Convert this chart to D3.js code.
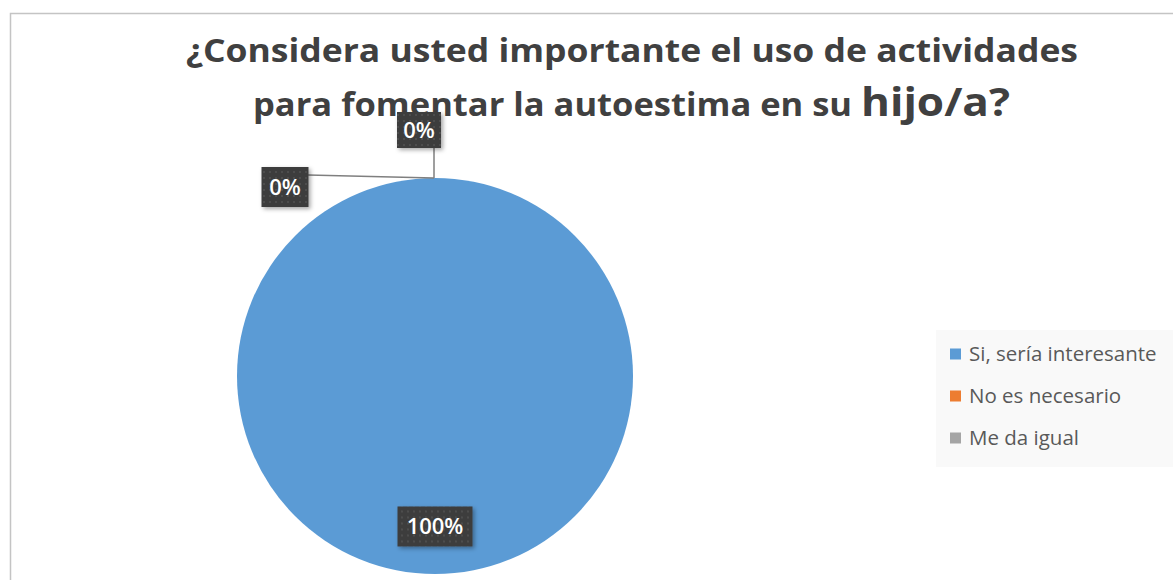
<!DOCTYPE html>
<html>
<head>
<meta charset="utf-8">
<script src="https://cdn.jsdelivr.net/npm/d3@7"></script>
<style>
    body { margin: 0; background: #fff; }
    svg { display: block; font-family: "Open Sans", "DejaVu Sans", sans-serif; }
</style>
</head>
<body>
<div id="chart"></div>
<script>
const categories = ["Si, sería interesante", "No es necesario", "Me da igual"];
const values = [100, 0, 0];
const percentLabels = ["100%", "0%", "0%"];
const colors = ["#5b9bd5", "#ed7d31", "#a5a5a5"];
const titleLine1 = "¿Considera usted importante el uso de actividades";
const titleLine2a = "para fomentar la autoestima en su ";
const titleLine2b = "hijo/a?";

function renderPieChart() {
    const outerWidth = 1173;
    const outerHeight = 580;

    const svg = d3.select("#chart")
        .append("svg")
        .attr("width", outerWidth)
        .attr("height", outerHeight);

    const defs = svg.append("defs");
    const dots = defs.append("pattern")
        .attr("id", "dots")
        .attr("width", 6)
        .attr("height", 6)
        .attr("patternUnits", "userSpaceOnUse");
    dots.append("rect").attr("width", 6).attr("height", 6).attr("fill", "#3d3d3d");
    dots.append("circle").attr("cx", 3).attr("cy", 3).attr("r", 0.9).attr("fill", "#555");

    const shadow = defs.append("filter")
        .attr("id", "shadow")
        .attr("x", "-20%").attr("y", "-20%")
        .attr("width", "150%").attr("height", "150%");
    shadow.append("feDropShadow")
        .attr("dx", 2).attr("dy", 2)
        .attr("stdDeviation", 2)
        .attr("flood-color", "#000")
        .attr("flood-opacity", 0.35);

    // chart frame
    svg.append("rect")
        .attr("x", 10.5)
        .attr("y", 13.5)
        .attr("width", outerWidth)
        .attr("height", outerHeight)
        .attr("fill", "#fff")
        .attr("stroke", "#c4c4c4")
        .attr("stroke-width", 1.5);

    // title
    svg.append("text")
        .attr("x", 632)
        .attr("y", 62)
        .attr("text-anchor", "middle")
        .attr("font-size", 33)
        .attr("font-weight", "bold")
        .attr("fill", "#404040")
        .attr("textLength", 892)
        .attr("lengthAdjust", "spacingAndGlyphs")
        .text(titleLine1);

    const line2 = svg.append("text")
        .attr("x", 253)
        .attr("y", 116)
        .attr("font-weight", "bold")
        .attr("fill", "#404040");
    line2.append("tspan")
        .attr("font-size", 33)
        .attr("textLength", 608)
        .attr("lengthAdjust", "spacingAndGlyphs")
        .text(titleLine2a);
    line2.append("tspan")
        .attr("font-size", 40)
        .attr("textLength", 149)
        .attr("lengthAdjust", "spacingAndGlyphs")
        .text(titleLine2b);

    // pie
    const cx = 435;
    const cy = 376;
    const radius = 198;

    const pie = d3.pie().sort(null).value((d) => d.value);
    const slices = pie(categories.map((name, i) => ({
        name,
        value: values[i],
        label: percentLabels[i],
        color: colors[i],
    })));

    const arc = d3.arc().innerRadius(0).outerRadius(radius);
    const labelArc = d3.arc().innerRadius(radius * 0.76).outerRadius(radius * 0.76);

    const plot = svg.append("g")
        .attr("transform", `translate(${cx}, ${cy})`);

    plot.selectAll(".slice")
        .data(slices)
        .enter()
        .append("path")
        .attr("class", "slice")
        .attr("d", arc)
        .attr("fill", (d) => d.data.color);

    // label positions (Excel pushes the zero slices outside with leader lines)
    const labelPos = slices.map((d, i) => {
        if (d.data.value > 0) {
            const [lx, ly] = labelArc.centroid(d);
            return {x: lx, y: ly, w: 75, h: 40, leader: null};
        }
        if (i === 1) {
            return {x: -16, y: -246, w: 44, h: 36, leader: [[-1, -228], [-1, -radius]]};
        }
        return {x: -150, y: -189, w: 47, h: 40, leader: [[-127, -201], [-1, -radius]]};
    });

    plot.selectAll(".leader")
        .data(labelPos.filter((p) => p.leader))
        .enter()
        .append("polyline")
        .attr("class", "leader")
        .attr("points", (p) => p.leader.map((pt) => pt.join(",")).join(" "))
        .attr("fill", "none")
        .attr("stroke", "#7f7f7f")
        .attr("stroke-width", 1.5);

    const labels = plot.selectAll(".pct-label")
        .data(slices)
        .enter()
        .append("g")
        .attr("class", "pct-label")
        .attr("transform", (d, i) => `translate(${labelPos[i].x}, ${labelPos[i].y})`);

    labels.append("rect")
        .attr("x", (d, i) => -labelPos[i].w / 2)
        .attr("y", (d, i) => -labelPos[i].h / 2)
        .attr("width", (d, i) => labelPos[i].w)
        .attr("height", (d, i) => labelPos[i].h)
        .attr("fill", "url(#dots)")
        .attr("filter", "url(#shadow)");

    labels.append("text")
        .attr("text-anchor", "middle")
        .attr("dy", "0.36em")
        .attr("font-size", 22)
        .attr("font-weight", 600)
        .attr("fill", "#fff")
        .text((d) => d.data.label);

    // legend
    const legend = svg.append("g")
        .attr("transform", "translate(936, 330)");
    legend.append("rect")
        .attr("width", 237)
        .attr("height", 137)
        .attr("fill", "#f9f9f9");

    const items = legend.selectAll(".legend-item")
        .data(categories)
        .enter()
        .append("g")
        .attr("class", "legend-item")
        .attr("transform", (d, i) => `translate(14, ${24 + i * 42})`);
    items.append("rect")
        .attr("y", -5.5)
        .attr("width", 11)
        .attr("height", 11)
        .attr("fill", (d, i) => colors[i]);
    items.append("text")
        .attr("x", 19)
        .attr("dy", "0.35em")
        .attr("font-size", 20.5)
        .attr("fill", "#595959")
        .text((d) => d);
}

renderPieChart();
</script>
</body>
</html>
